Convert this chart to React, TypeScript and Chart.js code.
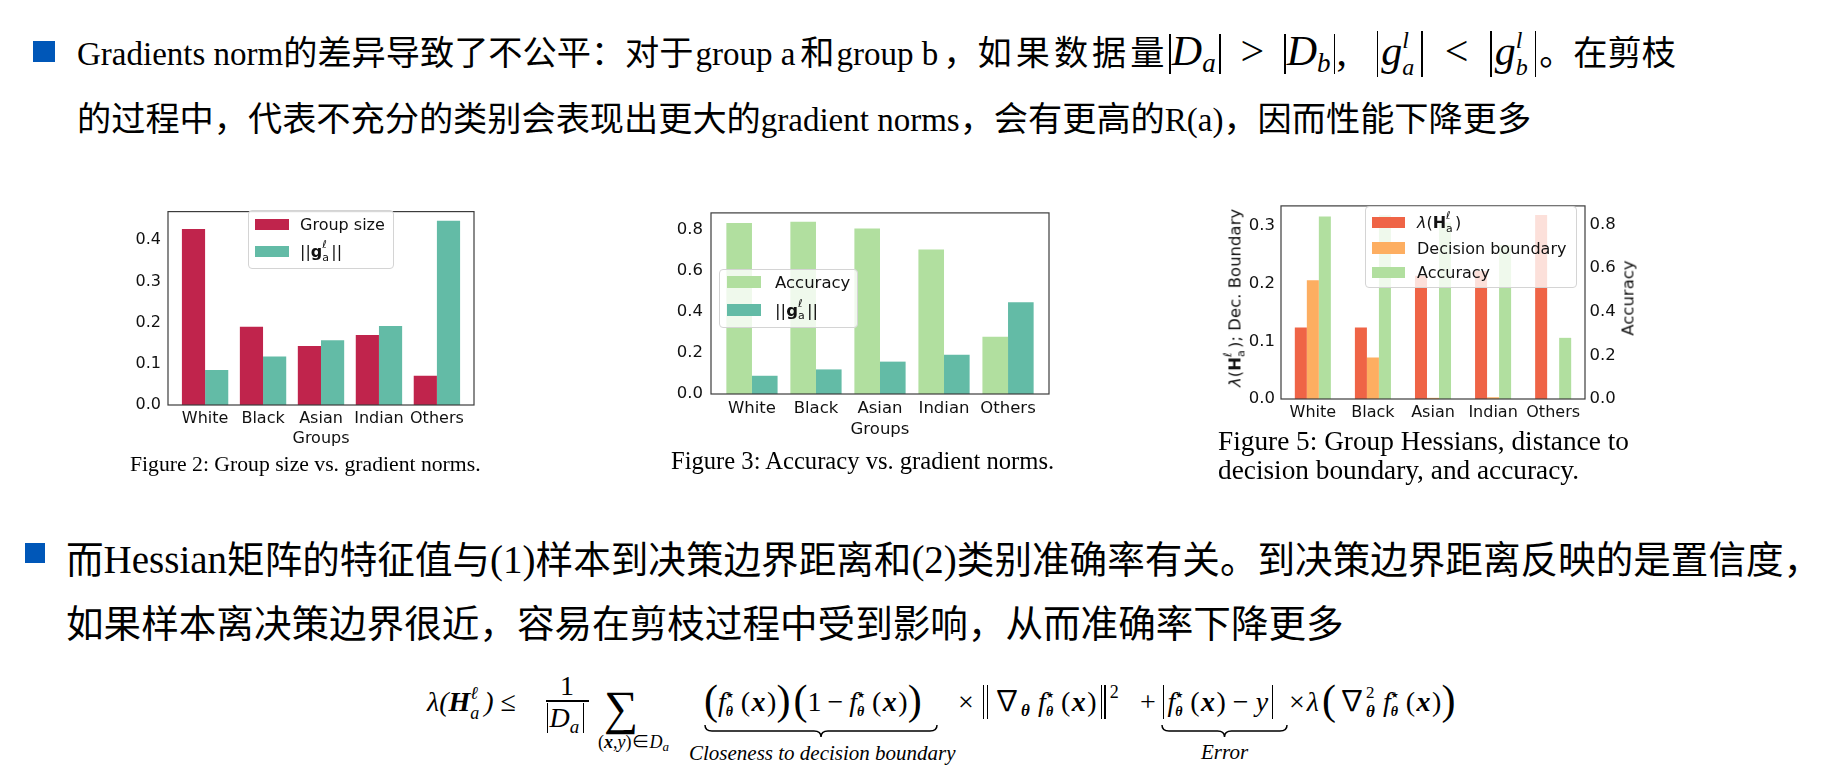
import React, { useEffect, useRef } from 'react';
import { Chart, registerables } from 'chart.js';

Chart.register(...registerables);

// ---------------- data ----------------
const groups = ['White', 'Black', 'Asian', 'Indian', 'Others'];

const fig2GroupSize = [0.427, 0.190, 0.143, 0.170, 0.071];
const fig2GradNorm = [0.085, 0.118, 0.157, 0.192, 0.447];
const fig2YTicks = [0, 0.1, 0.2, 0.3, 0.4];

const fig3Accuracy = [0.835, 0.841, 0.808, 0.705, 0.280];
const fig3GradNorm = [0.089, 0.120, 0.158, 0.192, 0.448];
const fig3YTicks = [0, 0.2, 0.4, 0.6, 0.8];

const fig5Hessian = [0.124, 0.124, 0.214, 0.222, 0.319];
const fig5DecBoundary = [0.206, 0.072, 0.002, 0.003, 0.0];
const fig5Accuracy = [0.835, 0.841, 0.808, 0.705, 0.280];
const fig5LeftTicks = [0, 0.1, 0.2, 0.3];
const fig5RightTicks = [0, 0.2, 0.4, 0.6, 0.8];

// ---------------- styles ----------------
const CRIMSON = '#c0244c';
const TEAL = '#63bba6';
const LGREEN = '#b1df9f';
const ORANGE = '#fdae61';
const REDOR = '#ef6446';
const BLUE = '#0057b8';

const SERIF = '"Liberation Serif", "Noto Sans CJK SC", serif';
const SANS = '"DejaVu Sans", "Noto Sans", sans-serif';

const pts = (vals: number[]) => vals.map((v, i) => ({ x: i, y: v }));

const framePlugin = {
  id: 'frame',
  afterDraw(chart: any) {
    const { ctx, chartArea: a } = chart;
    ctx.save();
    ctx.strokeStyle = '#3c3c3c';
    ctx.lineWidth = 1.2;
    ctx.strokeRect(a.left, a.top, a.right - a.left, a.bottom - a.top);
    ctx.restore();
  },
};

function xScale(min: number, max: number, height: number, pad: number, fs: number) {
  return {
    type: 'linear',
    min,
    max,
    offset: false,
    grid: { display: false, offset: false, drawTicks: false },
    border: { display: false },
    afterBuildTicks: (ax: any) => {
      ax.ticks = groups.map((_, i) => ({ value: i }));
    },
    afterFit: (ax: any) => {
      ax.height = height;
    },
    ticks: {
      autoSkip: false,
      maxRotation: 0,
      minRotation: 0,
      padding: pad,
      color: '#111',
      font: { family: 'DejaVu Sans', size: fs },
      callback: (v: any) => groups[Math.round(Number(v))] ?? '',
    },
  };
}

function yScale(max: number, ticks: number[], width: number, pad: number, fs: number, position: string) {
  return {
    type: 'linear',
    position,
    min: 0,
    max,
    grid: { display: false, drawTicks: false },
    border: { display: false },
    afterBuildTicks: (ax: any) => {
      ax.ticks = ticks.map((v) => ({ value: v }));
    },
    afterFit: (ax: any) => {
      ax.width = width;
    },
    ticks: {
      padding: pad,
      color: '#111',
      font: { family: 'DejaVu Sans', size: fs },
      callback: (v: any) => Number(v).toFixed(1),
    },
  };
}

function ChartPanel({ x, y, w, h, build }: any) {
  const ref = useRef<HTMLCanvasElement | null>(null);
  useEffect(() => {
    const c = new Chart(ref.current as HTMLCanvasElement, build());
    return () => c.destroy();
  }, []);
  return (
    <canvas
      ref={ref}
      width={w}
      height={h}
      style={{ position: 'absolute', left: x, top: y, width: w, height: h }}
    />
  );
}

const baseOpts = (padding: any, catPct: number, scales: any) => ({
  responsive: false,
  maintainAspectRatio: false,
  animation: false,
  events: [],
  layout: { padding },
  datasets: { bar: { categoryPercentage: catPct, barPercentage: 1, borderWidth: 0 } },
  plugins: { legend: { display: false }, tooltip: { enabled: false } },
  scales,
});

const buildFig2 = () => ({
  type: 'bar',
  data: {
    datasets: [
      { label: 'Group size', data: pts(fig2GroupSize), backgroundColor: CRIMSON },
      { label: '||g||', data: pts(fig2GradNorm), backgroundColor: TEAL },
    ],
  },
  options: baseOpts({ left: 0, right: 6, top: 8, bottom: 0 }, 0.8, {
    x: xScale(-0.64, 4.64, 25, 4.7, 16),
    y: yScale(0.4695, fig2YTicks, 68, 7, 16, 'left'),
  }),
  plugins: [framePlugin],
});

const buildFig3 = () => ({
  type: 'bar',
  data: {
    datasets: [
      { label: 'Accuracy', data: pts(fig3Accuracy), backgroundColor: LGREEN },
      { label: '||g||', data: pts(fig3GradNorm), backgroundColor: TEAL },
    ],
  },
  options: baseOpts({ left: 0, right: 7, top: 8, bottom: 0 }, 0.8, {
    x: xScale(-0.64, 4.64, 25, 4.4, 16.5),
    y: yScale(0.884, fig3YTicks, 61, 8, 16.5, 'left'),
  }),
  plugins: [framePlugin],
});

const buildFig5 = () => ({
  type: 'bar',
  data: {
    datasets: [
      { label: 'lambda', data: pts(fig5Hessian), backgroundColor: REDOR, yAxisID: 'y' },
      { label: 'Decision boundary', data: pts(fig5DecBoundary), backgroundColor: ORANGE, yAxisID: 'y' },
      { label: 'Accuracy', data: pts(fig5Accuracy), backgroundColor: LGREEN, yAxisID: 'y1' },
    ],
  },
  options: baseOpts({ left: 0, right: 0, top: 7.7, bottom: 0 }, 0.6, {
    x: xScale(-0.53, 4.53, 25, 4, 16),
    y: yScale(0.335, fig5LeftTicks, 66, 6, 16.5, 'left'),
    y1: yScale(0.884, fig5RightTicks, 60, 4.5, 16.5, 'right'),
  }),
  plugins: [framePlugin],
});

// ---------------- text helpers ----------------
// places a line of text so that its baseline sits at `base`
function At({ x, base, size, fs, children, style }: any) {
  const f = fs ?? size;
  return (
    <div
      style={{
        position: 'absolute',
        left: x,
        top: base - 1.2375 * size,
        fontSize: f,
        lineHeight: `${1.8 * size}px`,
        whiteSpace: 'nowrap',
        fontFamily: SERIF,
        color: '#000',
        ...style,
      }}
    >
      {children}
    </div>
  );
}

// stacked superscript / subscript, zero-height inline box sitting on the baseline
function SS({ sup, sub, w, size, raise, drop }: any) {
  const lh = 0.75 * size;
  const off = 0.7125 * size;
  return (
    <span style={{ display: 'inline-block', position: 'relative', width: w, height: 0, lineHeight: 0 }}>
      {sup != null && (
        <span
          style={{ position: 'absolute', left: 0, top: -raise - off, fontSize: size, lineHeight: `${lh}px`, whiteSpace: 'nowrap' }}
        >
          {sup}
        </span>
      )}
      {sub != null && (
        <span
          style={{ position: 'absolute', left: 0, top: drop - off, fontSize: size, lineHeight: `${lh}px`, whiteSpace: 'nowrap' }}
        >
          {sub}
        </span>
      )}
    </span>
  );
}

const L = ({ s, m, children }: any) => <span style={{ fontSize: s, margin: m }}>{children}</span>;

function Center({ cx, cy, size, rotate, children, family }: any) {
  return (
    <div
      style={{
        position: 'absolute',
        left: cx,
        top: cy,
        transform: `translate(-50%, -50%)${rotate ? ` rotate(${rotate}deg)` : ''}`,
        fontFamily: family ?? SANS,
        fontSize: size,
        lineHeight: `${size * 1.4}px`,
        whiteSpace: 'nowrap',
        color: '#111',
      }}
    >
      {children}
    </div>
  );
}

function LegendBox({ x, y, w, h, rows }: any) {
  return (
    <>
      <div
        style={{
          position: 'absolute',
          left: x,
          top: y,
          width: w,
          height: h,
          boxSizing: 'border-box',
          background: 'rgba(255,255,255,0.8)',
          border: '1px solid #d4d4d4',
          borderRadius: 4,
        }}
      />
      {rows.map((r: any, i: number) => (
        <React.Fragment key={i}>
          <div
            style={{
              position: 'absolute',
              left: r.sx,
              top: r.cy - r.sh / 2,
              width: r.sw,
              height: r.sh,
              background: r.color,
            }}
          />
          <div
            style={{
              position: 'absolute',
              left: r.tx,
              top: r.cy - 12,
              height: 24,
              display: 'flex',
              alignItems: 'center',
              fontFamily: SANS,
              fontSize: r.fs,
              whiteSpace: 'nowrap',
              color: '#111',
            }}
          >
            {r.label}
          </div>
        </React.Fragment>
      ))}
    </>
  );
}

const GNorm = () => (
  <span>
    ||<b>g</b>
    <SS w={9} size={11} sup={<i>ℓ</i>} sub={<span>a</span>} raise={8} drop={4.5} />
    ||
  </span>
);

const LamH = ({ s }: any) => (
  <span>
    <i>λ</i>(<b>H</b>
    <SS w={s * 0.55} size={s * 0.68} sup={<i>ℓ</i>} sub={<span>a</span>} raise={s * 0.5} drop={s * 0.3} />)
  </span>
);

function Brace({ x, y, w, h = 14 }: any) {
  const m = w / 2;
  const c = h / 2;
  const d = `M1,1 Q1,${c} 8,${c} L${m - 7},${c} Q${m},${c} ${m},${h - 1} Q${m},${c} ${m + 7},${c} L${w - 8},${c} Q${w - 1},${c} ${w - 1},1`;
  return (
    <svg style={{ position: 'absolute', left: x, top: y }} width={w} height={h}>
      <path d={d} fill="none" stroke="#000" strokeWidth={1.5} />
    </svg>
  );
}

const TallBar = ({ h = 34, dy = 8, gap = 2 }: any) => (
  <span
    style={{
      display: 'inline-block',
      width: 1.4,
      height: h,
      background: '#000',
      verticalAlign: -dy,
      margin: `0 ${gap}px`,
    }}
  />
);
const DoubleBar = ({ h = 34, dy = 8, m = 6 }: any) => (
  <span style={{ display: 'inline-block', verticalAlign: -dy, margin: `0 ${m}px`, lineHeight: 0 }}>
    <span style={{ display: 'inline-block', width: 1.4, height: h, background: '#000', marginRight: 2.5 }} />
    <span style={{ display: 'inline-block', width: 1.4, height: h, background: '#000' }} />
  </span>
);

// f*_theta(x)
const FX = () => (
  <>
    <i>f</i>
    <SS
      w={15}
      size={14}
      sup={<span style={{ fontFamily: SANS, fontSize: 9 }}>★</span>}
      sub={<b><i>θ</i></b>}
      raise={12}
      drop={6}
    />
    (<b style={{ margin: '0 1.5px' }}><i>x</i></b>)
  </>
);
const BigP = ({ c, ml = 0 }: any) => (
  <span style={{ fontSize: 42, lineHeight: 0, position: 'relative', top: 3, fontStyle: 'normal', marginLeft: ml }}>
    {c}
  </span>
);
const Op = ({ c, m = 5 }: any) => <span style={{ margin: `0 ${m}px` }}>{c}</span>;

function Formula() {
  const S = 28;
  const B = 712;
  return (
    <>
      <At x={427} base={B} size={S} style={{ fontStyle: 'italic' }}>
        λ(<b>H</b>
        <SS w={14} size={18} sup={<i>ℓ</i>} sub={<i>a</i>} raise={12} drop={8} />) ≤
      </At>
      {/* fraction */}
      <At x={560} base={696} size={S}>1</At>
      <div style={{ position: 'absolute', left: 546, top: 700, width: 43, height: 1.5, background: '#000' }} />
      <At x={546} base={728} size={S}>
        <TallBar h={30} dy={6} gap={1} />
        <i>D</i>
        <SS w={12} size={19} sub={<i>a</i>} raise={0} drop={6} />
        <TallBar h={30} dy={6} gap={1} />
      </At>
      {/* sum */}
      <At x={604} base={724} size={48}>∑</At>
      <At x={598} base={748} size={18}>
        (<b><i>x</i></b>,<i>y</i>)∈<i>D</i>
        <SS w={8} size={13} sub={<i>a</i>} raise={0} drop={4} />
      </At>
      {/* closeness term */}
      <At x={704} base={B} size={S}>
        <BigP c="(" />
        <FX />
        <BigP c=")" />
        <BigP c="(" ml={3} />1<Op c="−" m={6} />
        <FX />
        <BigP c=")" />
      </At>
      <Brace x={704} y={724} w={234} />
      <At x={689} base={761} size={21} style={{ fontStyle: 'italic' }}>
        Closeness to decision boundary
      </At>
      {/* gradient norm term */}
      <At x={958} base={B} size={S}>
        <span style={{ marginRight: 4 }}>×</span>
        <DoubleBar m={5} />∇<SS w={17} size={17} sub={<b><i>θ</i></b>} raise={0} drop={6} />
        <FX />
        <DoubleBar m={4} />
        <SS w={12} size={18} sup={<span>2</span>} raise={13} drop={0} />
      </At>
      <At x={1140} base={B} size={S}>+</At>
      {/* error term */}
      <At x={1160} base={B} size={S}>
        <TallBar h={34} dy={8} gap={3} />
        <FX />
        <Op c="−" m={7} />
        <i>y</i>
        <TallBar h={34} dy={8} gap={4} />
      </At>
      <Brace x={1161} y={724} w={127} />
      <At x={1201} base={760} size={21} style={{ fontStyle: 'italic' }}>
        Error
      </At>
      {/* hessian term */}
      <At x={1289} base={B} size={S}>
        <span style={{ marginRight: 2 }}>×</span>
        <i>λ</i>
        <BigP c="(" ml={3} />
        <span style={{ marginLeft: 2 }}>∇</span>
        <SS w={17} size={17} sup={<span>2</span>} sub={<b><i>θ</i></b>} raise={12} drop={7} />
        <FX />
        <BigP c=")" />
      </At>
    </>
  );
}

export default function App() {
  const L1 = 33;
  const L2 = 39;
  const M = 42;
  const gap = 19;
  return (
    <div
      style={{
        position: 'absolute',
        left: 0,
        top: 0,
        width: 1836,
        height: 769,
        overflow: 'hidden',
        background: '#fff',
      }}
    >
      {/* bullet 1 */}
      <div style={{ position: 'absolute', left: 33, top: 41, width: 22, height: 21, background: BLUE }} />
      <At x={77} base={65} size={34.2}>
        <L s={L1}>Gradients norm</L>的差异导致了不公平：对于<L s={L1} m="0 5px 0 2px">group a</L>和
        <L s={L1} m="0 5px 0 2px">group b</L>，<span style={{ letterSpacing: 4 }}>如果数据量</span>
        <span style={{ fontSize: M, lineHeight: '40px' }}>
          <TallBar h={40} dy={9} gap={1} />
          <i>D</i>
          <SS w={16} size={27} sub={<i>a</i>} raise={0} drop={8} />
          <TallBar h={40} dy={9} gap={1} />
          <span style={{ margin: `0 ${gap}px` }}>&gt;</span>
          <TallBar h={40} dy={9} gap={1} />
          <i>D</i>
          <SS w={16} size={27} sub={<i>b</i>} raise={0} drop={8} />
          <TallBar h={40} dy={9} gap={1} />
          <span style={{ marginRight: gap + 8 }}>,</span>
          <TallBar h={46} dy={12} gap={3} />
          <i>g</i>
          <SS w={16} size={24} sup={<i>l</i>} sub={<i>a</i>} raise={17} drop={10} />
          <TallBar h={46} dy={12} gap={3} />
          <span style={{ margin: `0 ${gap}px` }}>&lt;</span>
          <TallBar h={46} dy={12} gap={3} />
          <i>g</i>
          <SS w={16} size={24} sup={<i>l</i>} sub={<i>b</i>} raise={17} drop={10} />
          <TallBar h={46} dy={12} gap={3} />
        </span>
        。在剪枝
      </At>
      <At x={77} base={131} size={34.2}>
        的过程中，代表不充分的类别会表现出更大的<L s={L1}>gradient norms</L>，会有更高的<L s={L1}>R(a)</L>，因而性能下降更多
      </At>

      {/* figure 2 */}
      <ChartPanel x={100} y={195} w={380} h={235} build={buildFig2} />
      <LegendBox
        x={248}
        y={210}
        w={146}
        h={59}
        rows={[
          { sx: 255, sw: 34, sh: 11.5, cy: 224.3, color: CRIMSON, tx: 300, fs: 16, label: 'Group size' },
          { sx: 255, sw: 34, sh: 11.5, cy: 251.5, color: TEAL, tx: 300, fs: 16, label: <GNorm /> },
        ]}
      />
      <Center cx={321} cy={438.3} size={16}>Groups</Center>
      <At x={130} base={471.7} size={21.7}>Figure 2: Group size vs. gradient norms.</At>

      {/* figure 3 */}
      <ChartPanel x={650} y={195} w={406} h={224} build={buildFig3} />
      <LegendBox
        x={719}
        y={269}
        w={139}
        h={59}
        rows={[
          { sx: 727, sw: 34, sh: 12, cy: 282, color: LGREEN, tx: 775, fs: 16.5, label: 'Accuracy' },
          { sx: 727, sw: 34, sh: 12, cy: 310, color: TEAL, tx: 775, fs: 16.5, label: <GNorm /> },
        ]}
      />
      <Center cx={880} cy={428.7} size={16.5}>Groups</Center>
      <At x={671} base={469.3} size={24.6}>Figure 3: Accuracy vs. gradient norms.</At>

      {/* figure 5 */}
      <ChartPanel x={1215} y={190} w={430} h={234} build={buildFig5} />
      <LegendBox
        x={1365}
        y={206}
        w={212}
        h={82}
        rows={[
          { sx: 1372, sw: 33, sh: 11.5, cy: 222.5, color: REDOR, tx: 1417, fs: 16, label: <LamH s={16} /> },
          { sx: 1372, sw: 33, sh: 11.5, cy: 248, color: ORANGE, tx: 1417, fs: 16, label: 'Decision boundary' },
          { sx: 1372, sw: 33, sh: 11.5, cy: 272.5, color: LGREEN, tx: 1417, fs: 16, label: 'Accuracy' },
        ]}
      />
      <Center cx={1234.5} cy={298} size={16.5} rotate={-90}>
        <LamH s={16.5} />; Dec. Boundary
      </Center>
      <Center cx={1628} cy={298} size={16.5} rotate={-90}>Accuracy</Center>
      <At x={1218} base={450.7} size={27.3}>Figure 5: Group Hessians, distance to</At>
      <At x={1218} base={480} size={27.3}>decision boundary, and accuracy.</At>

      {/* bullet 2 */}
      <div style={{ position: 'absolute', left: 25, top: 543, width: 20, height: 20, background: BLUE }} />
      <At x={66} base={573} size={37.6}>
        而<L s={L2}>Hessian</L>矩阵的特征值与<L s={L2}>(1)</L>样本到决策边界距离和<L s={L2}>(2)</L>类别准确率有关。到决策边界距离反映的是置信度，
      </At>
      <At x={66} base={638} size={37.6}>如果样本离决策边界很近，容易在剪枝过程中受到影响，从而准确率下降更多</At>

      <Formula />
    </div>
  );
}
